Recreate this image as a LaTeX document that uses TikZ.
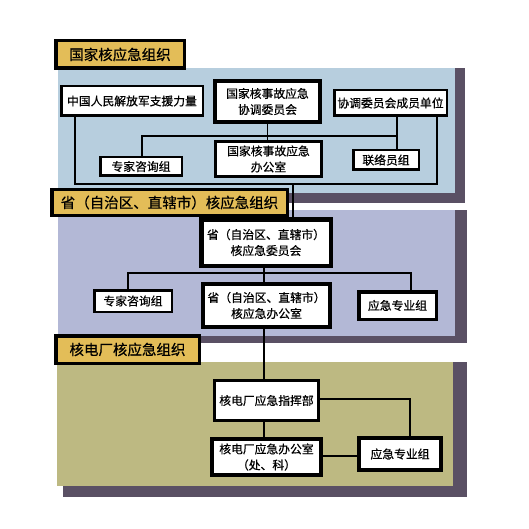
\documentclass[tikz,border=0pt]{standalone}
\usepackage{fontspec}
\setmainfont{Noto Sans CJK SC}[FakeBold=0.6]
\usepackage{xcolor}
\usepackage{tikz}
\usetikzlibrary{positioning, calc}
\definecolor{gold}{HTML}{E3BD58}
\definecolor{skyband}{HTML}{B7CEDE}
\definecolor{lavband}{HTML}{B3B8D6}
\definecolor{oliveband}{HTML}{BDB982}
\definecolor{bandshadow}{HTML}{5A5064}
\tikzset{
    unit/.style={
        rectangle,
        draw=black,
        fill=white,
        line width=2.5pt,
        inner sep=0pt,
        align=center,
        font=\fontsize{11.8}{16}\selectfont
    },
    keyunit/.style={
        unit,
        line width=4pt
    },
    leveltitle/.style={
        rectangle,
        draw=black,
        fill=gold,
        line width=3.5pt,
        inner sep=0pt,
        align=center,
        font=\fontsize{14.5}{17}\selectfont
    },
    link/.style={
        draw,
        line width=1.7pt,
        color=black
    }
}

\begin{document}
\begin{tikzpicture}[x=1pt, y=-1pt]

    \useasboundingbox (0,0) rectangle (529,529);

    % Bands with their shadows
    \fill[bandshadow] (64,68) rectangle (465,203);
    \fill[skyband] (58,68) rectangle (455,193);
    \fill[bandshadow] (64,210) rectangle (467,343);
    \fill[lavband] (58,210) rectangle (455,336);
    \fill[bandshadow] (63,362) rectangle (467,497);
    \fill[oliveband] (57,362) rectangle (453,486);

    % National level
    \node (t1) [leveltitle, minimum width=128.5, minimum height=27.5] at (120,54.5) {国家核应急组织};

    \node (pla) [unit, minimum width=141.5, minimum height=29.5] at (132,101) {中国人民解放军支援力量};

    \node (ncc) [keyunit, minimum width=105, minimum height=41] at (267.5,101.5) {
        国家核事故应急\\协调委员会
    };

    \node (members) [unit, minimum width=112.5, minimum height=25.5] at (390.5,103) {协调委员会成员单位};

    \node (expert1) [unit, minimum width=81.5, minimum height=18.5] at (141,166.5) {专家咨询组};

    \node (office1) [unit, line width=3pt, minimum width=106, minimum height=35] at (268.5,159) {
        国家核事故应急\\办公室
    };

    \node (liaison) [unit, minimum width=65.5, minimum height=19.5] at (386,160) {联络员组};

    % Provincial level
    \node (t2) [leveltitle, minimum width=235.5, minimum height=25.5] at (169.5,202.5) {省（自治区、直辖市）核应急组织};

    \node (provcom) [keyunit, line width=4.5pt, minimum width=129.5, minimum height=46.5] at (266,242.5) {
        省（自治区、直辖市）\\核应急委员会
    };

    \node (expert2) [unit, minimum width=77.5, minimum height=21.5] at (133,301) {专家咨询组};

    \node (provoff) [keyunit, minimum width=127, minimum height=43] at (266.5,305.5) {
        省（自治区、直辖市）\\核应急办公室
    };

    \node (prof2) [unit, line width=3.5pt, minimum width=77.5, minimum height=27.5] at (397.5,305.5) {应急专业组};

    % Plant level
    \node (t3) [leveltitle, minimum width=143.5, minimum height=27.5] at (127.5,349.5) {核电厂核应急组织};

    \node (command) [unit, line width=3pt, minimum width=104, minimum height=40] at (266.5,400.5) {核电厂应急指挥部};

    \node (plantoff) [keyunit, minimum width=109, minimum height=36] at (266.5,457) {
        核电厂应急办公室\\（处、科）
    };

    \node (prof3) [keyunit, minimum width=82, minimum height=32] at (400,454) {应急专业组};

    % Connections
    \coordinate (b1) at (142,136);
    \coordinate (b2) at (397,136);
    \coordinate (l1) at (75,184);
    \coordinate (l2) at (437,184);
    \coordinate (l3) at (293,184);
    \coordinate (b3) at (128,273);
    \coordinate (b4) at (411,273);
    \coordinate (v2) at (264,273);
    \coordinate (r3) at (410,399);

    \draw [link] (ncc.south) -- (ncc.south |- office1.north);
    \draw [link] (expert1.north -| b1) -- (b1) -- (b2);
    \draw [link] (members.south -| b2) -- (liaison.north -| b2);
    \draw [link] (pla.south -| l1) -- (l1) -- (l2) -- (members.south -| l2);
    \draw [link] (l3) -- (provcom.north -| l3);

    \draw [link] (provcom.south -| v2) -- (provoff.north -| v2);
    \draw [link] (expert2.north -| b3) -- (b3) -- (b4) -- (prof2.north -| b4);
    \draw [link] (provoff.south -| v2) -- (command.north -| v2);

    \draw [link] (command.east |- r3) -- (r3) -- (prof3.north -| r3);
    \draw [link] (command.south -| v2) -- (plantoff.north -| v2);
    \draw [link] (plantoff.east |- 0,456) -- (prof3.west |- 0,456);

\end{tikzpicture}
\end{document}
